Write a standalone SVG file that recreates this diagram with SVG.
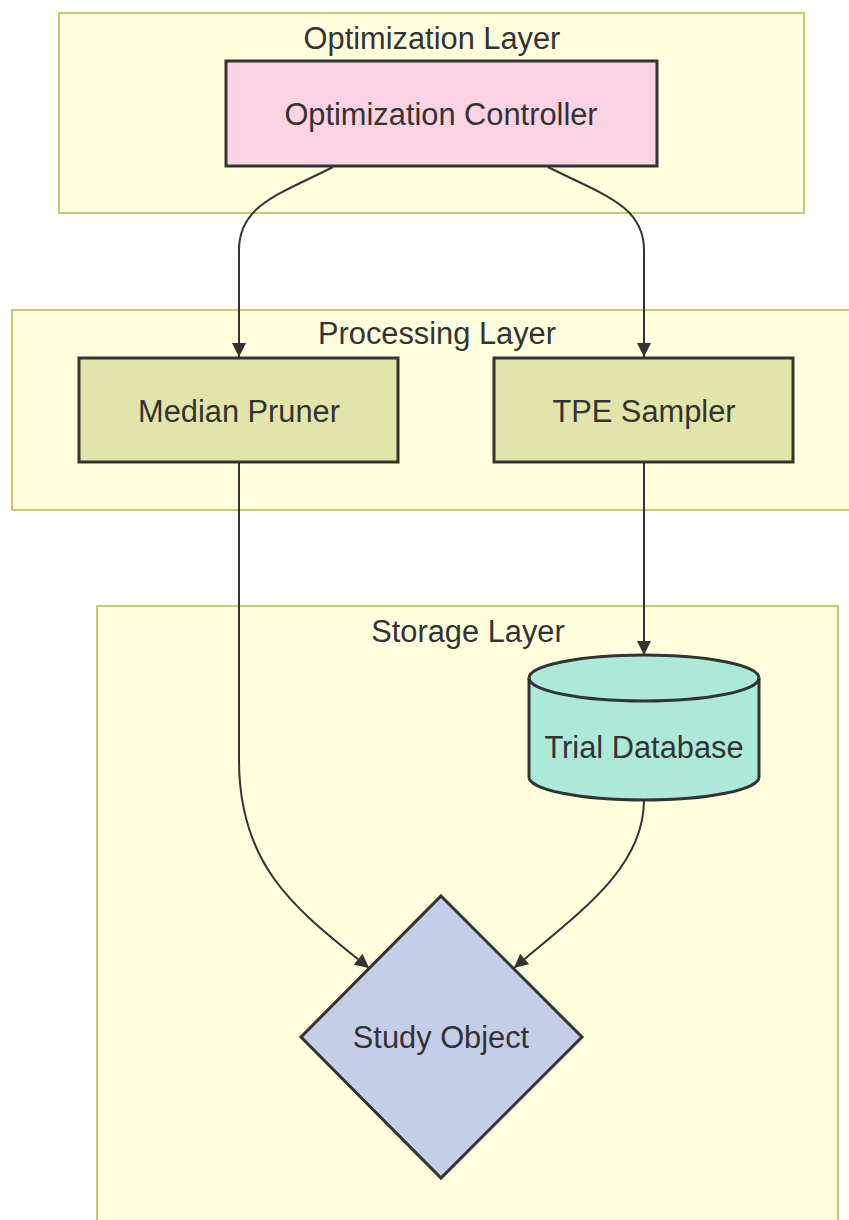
<svg xmlns="http://www.w3.org/2000/svg" width="849" height="1220" viewBox="0 0 849 1220">
<style>
.cluster{fill:#ffffde;stroke:#c8c870;stroke-width:2}
.node{stroke:#333;stroke-width:3}
.edge{fill:none;stroke:#333;stroke-width:2}
text{font-family:"Liberation Sans",Arial,sans-serif;font-size:30.8px;fill:#333;text-anchor:middle;dominant-baseline:central}
</style>
<defs>
<marker id="arrow" markerUnits="userSpaceOnUse" markerWidth="14" markerHeight="14" viewBox="0 0 10 10" refX="10" refY="5" orient="auto">
<path d="M0,0 L10,5 L0,10 z" fill="#333"/>
</marker>
</defs>
<rect width="849" height="1220" fill="#ffffff"/>
<g id="cluster-optimization">
<rect class="cluster" x="59" y="13" width="745" height="200"/>
<text x="432" y="38">Optimization Layer</text>
</g>
<g id="cluster-processing">
<rect class="cluster" x="12" y="310" width="850" height="200"/>
<text x="437" y="333">Processing Layer</text>
</g>
<g id="cluster-storage">
<rect class="cluster" x="97" y="606" width="741" height="640"/>
<text x="468" y="631">Storage Layer</text>
</g>
<g id="connectors">
<path class="edge" d="M333,167 C280,194 239,205 239,250 L239,357" marker-end="url(#arrow)"/>
<path class="edge" d="M548,167 C601,194 644,205 644,250 L644,357" marker-end="url(#arrow)"/>
<path class="edge" d="M239,462 L239,760 C239,870 300,912 369,968" marker-end="url(#arrow)"/>
<path class="edge" d="M644,462 L644,655" marker-end="url(#arrow)"/>
<path class="edge" d="M644,800 C644,868 580,912 514,968" marker-end="url(#arrow)"/>
</g>
<g id="node-controller">
<rect class="node" x="226" y="61" width="431" height="105" fill="#fbd3e3"/>
<text x="441" y="114">Optimization Controller</text>
</g>
<g id="node-pruner">
<rect class="node" x="79" y="358" width="319" height="104" fill="#e2e5a9"/>
<text x="239" y="411">Median Pruner</text>
</g>
<g id="node-sampler">
<rect class="node" x="494" y="358" width="299" height="104" fill="#e2e5a9"/>
<text x="644" y="411">TPE Sampler</text>
</g>
<g id="node-database">
<path class="node" fill="#ade9d9" d="M529,678 A115,23 0 0 1 759,678 L759,777 A115,23 0 0 1 529,777 Z"/>
<path class="node" fill="none" d="M529,678 A115,23 0 0 0 759,678"/>
<text x="644" y="747">Trial Database</text>
</g>
<g id="node-study">
<polygon class="node" points="441,896 582,1037 441,1178 301,1037" fill="#c5cee9"/>
<text x="441" y="1037">Study Object</text>
</g>
</svg>
